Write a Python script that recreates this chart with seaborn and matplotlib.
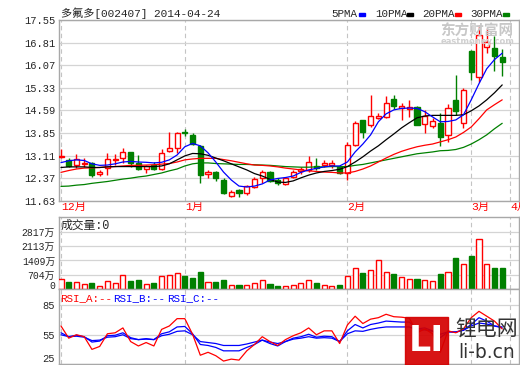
import numpy as np
import pandas as pd
import matplotlib
matplotlib.use('Agg')
import matplotlib.pyplot as plt
import seaborn as sns
from matplotlib.patches import Rectangle

# daily bars, Dec 2013 - Mar 2014
opens = [13.06, 12.97, 12.80, 12.84, 12.86, 12.50, 12.69, 12.96, 13.04, 13.22,
         12.86, 12.66, 12.80, 12.66, 13.27, 13.35, 13.88, 13.79, 13.41, 12.50,
         12.58, 12.31, 11.79, 11.98, 11.87, 12.09, 12.37, 12.58, 12.31, 12.18,
         12.42, 12.61, 12.64, 12.77, 12.80, 12.80, 12.72, 12.53, 13.46, 14.28,
         14.10, 14.35, 14.38, 14.96, 14.67, 14.65, 14.70, 14.15, 14.09, 14.17,
         13.79, 14.94, 14.17, 16.53, 15.69, 16.69, 16.64, 16.35]
closes = [13.10, 12.78, 12.99, 12.88, 12.47, 12.58, 12.99, 12.99, 13.23, 12.86,
          12.67, 12.77, 12.67, 13.19, 13.36, 13.85, 13.86, 13.49, 12.47, 12.58,
          12.37, 11.87, 11.92, 11.87, 12.11, 12.33, 12.58, 12.29, 12.22, 12.37,
          12.58, 12.66, 12.89, 12.69, 12.86, 12.86, 12.55, 13.46, 14.17, 13.90,
          14.40, 14.42, 14.84, 14.74, 14.74, 14.71, 14.12, 14.40, 14.23, 13.73,
          14.68, 14.56, 15.27, 15.84, 17.08, 16.84, 16.37, 16.17]
highs = [13.32, 13.02, 13.16, 13.02, 12.91, 12.64, 13.21, 13.16, 13.35, 13.22,
         13.13, 12.80, 12.91, 13.32, 13.90, 13.90, 13.98, 13.85, 13.46, 12.64,
         12.60, 12.37, 11.98, 12.00, 12.15, 12.42, 12.64, 12.60, 12.37, 12.42,
         12.64, 12.75, 13.10, 13.02, 12.97, 12.97, 12.78, 13.57, 14.26, 14.28,
         15.11, 14.50, 15.07, 15.11, 14.84, 14.94, 14.75, 14.62, 14.35, 14.52,
         14.80, 15.76, 15.33, 16.59, 17.41, 17.30, 17.05, 16.61]
lows = [13.03, 12.75, 12.69, 12.75, 12.42, 12.44, 12.47, 12.80, 12.88, 12.75,
        12.64, 12.53, 12.64, 12.64, 13.24, 13.19, 13.74, 13.46, 12.20, 12.37,
        12.29, 11.85, 11.74, 11.74, 11.82, 12.04, 12.20, 12.26, 12.15, 12.15,
        12.37, 12.50, 12.58, 12.64, 12.75, 12.69, 12.49, 12.31, 13.43, 13.68,
        14.05, 14.30, 14.33, 14.65, 14.28, 14.38, 14.10, 13.85, 14.02, 13.41,
        13.57, 14.45, 14.01, 15.60, 15.51, 16.48, 15.87, 15.73]
volume = [519, 340, 372, 275, 292, 178, 421, 324, 713, 389,
          437, 275, 292, 664, 713, 810, 632, 535, 826, 372,
          340, 437, 227, 194, 227, 324, 470, 243, 146, 178,
          227, 324, 470, 292, 227, 178, 194, 664, 1053, 778,
          956, 1442, 859, 729, 616, 518, 518, 470, 421, 729,
          859, 1555, 1215, 1604, 2462, 1247, 1021, 1021]

ma5 = [12.88, 12.94, 12.97, 12.95, 12.84, 12.79, 12.80, 12.84, 12.90, 12.92,
       12.90, 12.89, 12.87, 12.89, 12.97, 13.13, 13.40, 13.51, 13.43, 13.20,
       12.90, 12.57, 12.31, 12.11, 12.08, 12.11, 12.18, 12.31, 12.36, 12.39,
       12.44, 12.56, 12.64, 12.69, 12.74, 12.77, 12.77, 12.90, 13.23, 13.49,
       13.79, 14.22, 14.48, 14.61, 14.66, 14.67, 14.66, 14.55, 14.38, 14.22,
       14.23, 14.28, 14.45, 14.94, 15.47, 15.96, 16.26, 16.47]
ma10 = [12.72, 12.74, 12.74, 12.74, 12.72, 12.72, 12.74, 12.75, 12.75, 12.75,
        12.75, 12.75, 12.75, 12.77, 12.84, 12.97, 13.10, 13.18, 13.17, 13.12,
        13.03, 12.94, 12.84, 12.74, 12.64, 12.52, 12.44, 12.33, 12.24, 12.23,
        12.28, 12.38, 12.47, 12.54, 12.59, 12.62, 12.66, 12.75, 12.90, 13.07,
        13.26, 13.43, 13.63, 13.82, 14.02, 14.19, 14.35, 14.41, 14.43, 14.43,
        14.43, 14.43, 14.45, 14.58, 14.74, 14.94, 15.17, 15.43]
ma20 = [12.56, 12.62, 12.67, 12.70, 12.71, 12.72, 12.74, 12.75, 12.77, 12.79,
        12.79, 12.80, 12.81, 12.83, 12.85, 12.90, 12.97, 13.00, 13.02, 13.02,
        13.02, 12.98, 12.94, 12.89, 12.84, 12.80, 12.79, 12.77, 12.74, 12.70,
        12.67, 12.64, 12.61, 12.59, 12.57, 12.56, 12.54, 12.54, 12.59, 12.67,
        12.77, 12.90, 13.03, 13.15, 13.25, 13.33, 13.40, 13.45, 13.49, 13.56,
        13.63, 13.72, 13.87, 14.05, 14.32, 14.61, 14.78, 14.94]
ma30 = [12.10, 12.11, 12.14, 12.16, 12.20, 12.23, 12.26, 12.30, 12.34, 12.37,
        12.41, 12.44, 12.49, 12.54, 12.61, 12.67, 12.77, 12.84, 12.87, 12.87,
        12.85, 12.84, 12.83, 12.82, 12.82, 12.81, 12.80, 12.79, 12.77, 12.75,
        12.74, 12.73, 12.73, 12.74, 12.74, 12.75, 12.75, 12.75, 12.79, 12.82,
        12.87, 12.92, 12.97, 13.02, 13.07, 13.12, 13.17, 13.20, 13.23, 13.27,
        13.28, 13.31, 13.38, 13.49, 13.63, 13.79, 13.99, 14.17]

rsi_a = [64, 51.5, 55, 53, 40, 43, 56, 57, 62, 48,
         43.5, 47, 43.5, 60.5, 64, 71.5, 71.5, 55.5, 34, 37,
         33.5, 28, 30, 29, 38.5, 45, 53, 48, 44, 50,
         54, 57, 62, 55, 59, 59, 46, 65, 74, 66.5,
         71, 72.5, 76, 73.5, 73, 72, 57, 61, 56, 37,
         59, 57, 61, 72.5, 79, 74, 69, 61]
rsi_b = [57, 53, 54.5, 53, 47.5, 48.5, 54, 54.5, 57, 52,
         50, 51, 50, 56, 58, 63, 63.5, 56, 45, 44,
         42, 38.5, 38.5, 38.5, 42, 45, 49.5, 46, 43.5, 48,
         51.5, 53, 55.5, 52.5, 53.5, 53, 48, 59, 65.5, 62,
         65.5, 67, 69, 68.5, 68, 68, 61, 62, 59, 52,
         58, 57.5, 60, 65.5, 72.5, 69, 64, 62]
rsi_c = [55, 53, 53.5, 52.5, 49, 49.5, 52.5, 53, 55, 51,
         50, 50.5, 50, 54, 55.5, 58.5, 59, 55, 48, 47,
         46, 44, 44, 44, 45.5, 47.5, 49.5, 47.5, 46, 48,
         50.5, 51.5, 53, 51.5, 52, 51.5, 48, 56, 59, 58.5,
         60.5, 62, 63, 63, 63, 63, 60, 60, 58.5, 55.5,
         58, 58, 59.5, 64, 67, 66, 64, 63]

month_pos = [0, 16, 37, 53, 58]
month_labels = ['12月', '1月', '2月', '3月', '4月']
price_ticks = [11.63, 12.37, 13.11, 13.85, 14.59, 15.33, 16.07, 16.81, 17.55]
vol_ticks = [0, 704, 1409, 2113, 2817]
vol_labels = ['0', '704万', '1409万', '2113万', '2817万']

df = pd.DataFrame({'open': opens, 'close': closes, 'high': highs, 'low': lows,
                   'vol': volume, 'ma5': ma5, 'ma10': ma10, 'ma20': ma20, 'ma30': ma30,
                   'rsi_a': rsi_a, 'rsi_b': rsi_b, 'rsi_c': rsi_c})
df['idx'] = np.arange(len(df))
df['up'] = df['close'] >= df['open']
df['body_lo'] = df[['open', 'close']].min(axis=1)
df['body_h'] = (df['close'] - df['open']).abs().clip(lower=0.012)

sns.set_theme(style='white')
plt.rcParams['font.family'] = ['Liberation Mono', 'Noto Sans CJK SC']
plt.rcParams['font.size'] = 7.5

RED, GREEN, BLUE = '#ff0000', '#008000', '#0000ff'
GRID, BORDER, DASH = '#d4d4d4', '#a8a8a8', '#c4c4c4'

fig = plt.figure(figsize=(5.2, 3.65), dpi=100)
W, H = 520.0, 365.0
left, right = 58.5, 519.0


def add_panel(top, bottom):
    return fig.add_axes([left / W, 1 - bottom / H, (right - left) / W, (bottom - top) / H])


ax = add_panel(20.3, 200.7)
axv = add_panel(216.5, 289.3)
axr = add_panel(289.3, 364.0)

for a in (ax, axv, axr):
    a.set_xlim(-0.32, 59.17)
    for s in a.spines.values():
        s.set_color(BORDER)
        s.set_linewidth(1)
    a.tick_params(length=0, pad=2.5, labelsize=7.5)
    a.yaxis.grid(True, color=GRID, lw=0.9)
    a.set_axisbelow(True)
    for m in month_pos:
        a.axvline(m, color=DASH, lw=0.8, ls=(0, (4, 3)), zorder=0)

# price panel
up = df[df['up']]
dn = df[~df['up']]
ax.vlines(df['idx'], df['low'], df['high'],
          colors=np.where(df['up'], RED, GREEN), lw=1, zorder=2)
ax.bar(up['idx'], up['body_h'], bottom=up['body_lo'], width=0.66,
       facecolor='white', edgecolor=RED, lw=1, zorder=3)
ax.bar(dn['idx'], dn['body_h'], bottom=dn['body_lo'], width=0.66,
       facecolor=GREEN, edgecolor=GREEN, lw=1, zorder=3)
for col, c in [('ma30', GREEN), ('ma20', RED), ('ma10', 'black'), ('ma5', BLUE)]:
    sns.lineplot(data=df, x='idx', y=col, color=c, lw=0.9, ax=ax, zorder=4)
ax.set_ylim(11.63, 17.55)
ax.set_yticks(price_ticks)
ax.set_yticklabels([f'{t:.2f}' for t in price_ticks])
ax.set_xticks(month_pos)
ax.set_xticklabels(month_labels, color=RED, ha='left', fontsize=8.2)
ax.tick_params(axis='x', pad=1)
ax.set_xlabel('')
ax.set_ylabel('')

# volume panel
axv.bar(up['idx'], up['vol'], width=0.66, facecolor='white', edgecolor=RED, lw=1, zorder=3)
axv.bar(dn['idx'], dn['vol'], width=0.66, facecolor=GREEN, edgecolor=GREEN, lw=1, zorder=3)
axv.set_ylim(0, 3560)
axv.set_yticks(vol_ticks)
axv.set_yticklabels(vol_labels, fontsize=7)
axv.get_yticklabels()[0].set_va('baseline')
axv.set_xticks([])
axv.text(0.004, 0.87, '成交量:0', transform=axv.transAxes, ha='left', va='center', fontsize=8.5)

# RSI panel
sns.lineplot(data=df, x='idx', y='rsi_c', color=BLUE, lw=0.9, ax=axr)
sns.lineplot(data=df, x='idx', y='rsi_b', color=BLUE, lw=0.9, ax=axr)
sns.lineplot(data=df, x='idx', y='rsi_a', color=RED, lw=0.9, ax=axr)
axr.set_ylim(25, 101.6)
axr.set_yticks([25, 55, 85])
axr.get_yticklabels()[0].set_va('bottom')
axr.set_xticks([])
axr.set_xlabel('')
axr.set_ylabel('')
for x0, txt, c in [(60, 'RSI_A:--', RED), (113, 'RSI_B:--', BLUE), (167, 'RSI_C:--', BLUE)]:
    fig.text(x0 / W, 1 - 298 / H, txt, color=c, ha='left', va='center', fontsize=7.8)

# title and MA legend
fig.text(61 / W, 1 - 13 / H, '多氟多[002407] 2014-04-24', ha='left', va='center', fontsize=8)
for x0, name, c, sx in [(331.5, '5PMA', BLUE, 359), (375, '10PMA', 'black', 407),
                        (422, '20PMA', RED, 455), (470, '30PMA', GREEN, 503)]:
    fig.text(x0 / W, 1 - 14 / H, name, ha='left', va='center', fontsize=7.8)
    fig.add_artist(Rectangle((sx / W, 1 - 15.5 / H), 6 / W, 3 / H,
                             transform=fig.transFigure, color=c))

# watermarks
fig.text(440 / W, 1 - 31 / H, '东方财富网', color='#c8c8c8', fontsize=10.5,
         fontweight='bold', ha='left', va='center', family='Noto Sans CJK SC')
fig.text(441 / W, 1 - 42 / H, 'eastmoney.com', color='#d0d0d0', fontsize=6,
         ha='left', va='center', family='DejaVu Sans', fontweight='bold')
fig.add_artist(Rectangle((405 / W, 0), 43 / W, 48 / H, transform=fig.transFigure,
                         color='#d40000', alpha=0.92, zorder=10))
fig.text(426.5 / W, 1 - 341 / H, 'LI', color='white', fontsize=25, fontweight='bold',
         ha='center', va='center', family='DejaVu Sans', zorder=11)
fig.text(487 / W, 1 - 329 / H, '锂电网', color='#333333', fontsize=15,
         ha='center', va='center', family='Noto Sans CJK SC', zorder=11)
fig.text(487 / W, 1 - 353 / H, 'li-b.cn', color='#333333', fontsize=13.5,
         ha='center', va='center', family='DejaVu Sans', zorder=11)

fig.savefig('out.png', dpi=100)
